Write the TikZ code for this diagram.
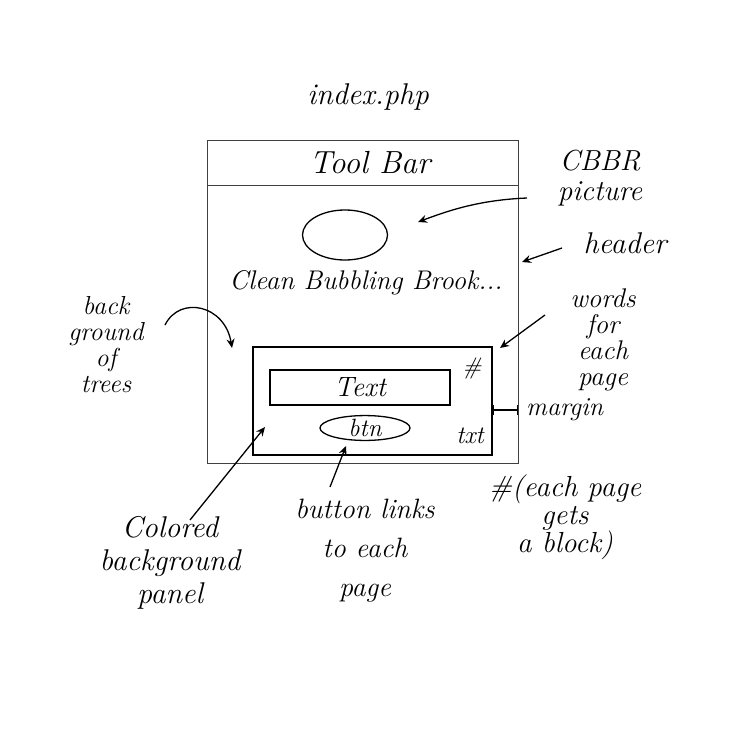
\documentclass[tikz,border=0pt]{standalone}
\usetikzlibrary{shapes.geometric,arrows.meta}
\begin{document}
\begin{tikzpicture}[x=1pt,y=-1pt,
  lbl/.style={font=\fontsize{28}{32}\selectfont\itshape, align=center, inner sep=0pt},
  frameline/.style={draw=black!75, line width=0.9pt},
  ink/.style={draw=black, line width=1.3pt},
  arr/.style={draw=black, line width=1.3pt, -{Stealth[length=9pt,width=8pt]}}]
\useasboundingbox (0,0) rectangle (755,755);
% title
\node[lbl, font=\fontsize{30}{32}\selectfont\itshape] (title) at (368,97) {index.php};
% outer page frame and toolbar
\node[frameline, minimum width=311pt, minimum height=323pt, inner sep=0pt] (frame) at (362.5,301.5) {};
\node[frameline, minimum width=311pt, minimum height=45pt, inner sep=0pt] (toolbar) at (362.5,162.5) {};
\node[lbl, font=\fontsize{32}{34}\selectfont\itshape] (tooltext) at (370,162.5) {Tool Bar};
% header picture and slogan
\node[ink, ellipse, minimum width=85pt, minimum height=50pt] (pic) at (345,235) {};
\node[lbl, font=\fontsize{27}{30}\selectfont\itshape] (slogan) at (366,283) {Clean Bubbling Brook...};
% coloured panel
\node[ink, minimum width=239pt, minimum height=108pt, inner sep=0pt] (panel) at (372.5,401) {};
\node[ink, minimum width=180pt, minimum height=35pt, inner sep=0pt, font=\fontsize{28}{30}\selectfont\itshape] (textbox) at (360,387.5) {Text};
\node[ink, ellipse, minimum width=90pt, minimum height=22pt, inner sep=0pt, font=\fontsize{25}{26}\selectfont\itshape] (btn) at (365,428) {btn};
\node[lbl, font=\fontsize{24}{26}\selectfont\itshape] (hash) at (472,368) {\#};
\node[lbl, font=\fontsize{25}{26}\selectfont\itshape] (txt) at (470,436) {txt};
% margin marker
\coordinate (mleft) at (panel.east |- 0,410);
\coordinate (mright) at (frame.east |- 0,410);
\draw[line width=1.3pt, {Bar[width=10pt]}-{Bar[width=10pt]}] (mleft) -- (mright);
\node[lbl, anchor=west, font=\fontsize{26}{30}\selectfont\itshape] (margin) at (526,410) {margin};
% annotations
\node[lbl, font=\fontsize{29}{30}\selectfont\itshape] (cbbr) at (600,178) {CBBR\\picture};
\coordinate (cbbrtail) at (527,198);
\coordinate (cbbrhead) at (418,222);
\draw[arr] (cbbrtail) .. controls (480,200) and (450,210) .. (cbbrhead);
\node[lbl, font=\fontsize{30}{32}\selectfont\itshape] (header) at (625,243) {header};
\coordinate (hdrtail) at (562,248);
\coordinate (hdrhead) at (522,262);
\draw[arr] (hdrtail) -- (hdrhead);
\node[lbl, font=\fontsize{27}{26}\selectfont\itshape] (words) at (603,340) {words\\for\\each\\page};
\coordinate (wordstail) at (545,315);
\coordinate (wordshead) at (500,348);
\draw[arr] (wordstail) -- (wordshead);
\node[lbl, font=\fontsize{26}{26}\selectfont\itshape] (trees) at (106,345) {back\\ground\\of\\trees};
\coordinate (treestail) at (165,325);
\coordinate (treeshead) at (232,348);
\draw[arr] (treestail) .. controls (180,295) and (225,305) .. (treeshead);
\node[lbl, font=\fontsize{30}{33}\selectfont\itshape] (colored) at (170,563) {Colored\\background\\panel};
\coordinate (coltail) at (190,520);
\coordinate (colhead) at (265,427);
\draw[arr] (coltail) -- (colhead);
\node[lbl, font=\fontsize{28}{39}\selectfont\itshape] (button) at (365,551) {button links\\to each\\page};
\coordinate (btntail) at (330,487);
\coordinate (btnhead) at (346,446);
\draw[arr] (btntail) -- (btnhead);
\node[lbl, font=\fontsize{29}{28}\selectfont\itshape] (block) at (565,517) {\#(each page\\gets\\a block)};
\end{tikzpicture}
\end{document}
